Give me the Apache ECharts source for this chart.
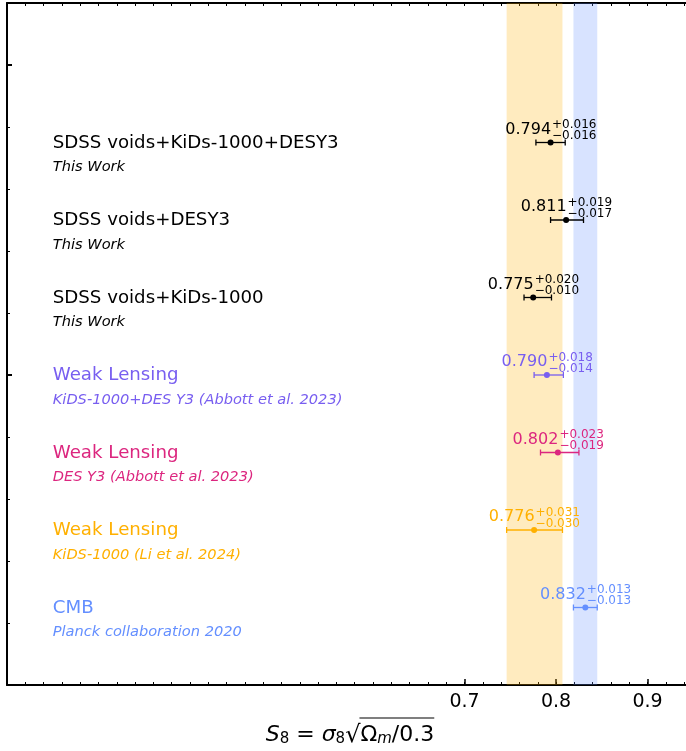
<!DOCTYPE html>
<html>
<head>
<meta charset="utf-8">
<script src="https://cdn.jsdelivr.net/npm/echarts@6/dist/echarts.min.js"></script>
<style>
  html, body { margin: 0; padding: 0; background: #fff; }
  #chart { width: 686px; height: 751px; }
</style>
</head>
<body>
<div id="chart"></div>
<script>
// S8 constraints, top row first
const labels = [
  'SDSS voids+KiDs-1000+DESY3',
  'SDSS voids+DESY3',
  'SDSS voids+KiDs-1000',
  'Weak Lensing',
  'Weak Lensing',
  'Weak Lensing',
  'CMB'
];
const sublabels = [
  'This Work',
  'This Work',
  'This Work',
  'KiDS-1000+DES Y3 (Abbott et al. 2023)',
  'DES Y3 (Abbott et al. 2023)',
  'KiDS-1000 (Li et al. 2024)',
  'Planck collaboration 2020'
];
const s8 = [0.794, 0.811, 0.775, 0.790, 0.802, 0.776, 0.832];
const errUp = [0.016, 0.019, 0.020, 0.018, 0.023, 0.031, 0.013];
const errDown = [0.016, 0.017, 0.010, 0.014, 0.019, 0.030, 0.013];
const colors = ['#000000', '#000000', '#000000', '#785EF0', '#DC267F', '#FFB000', '#648FFF'];

// shaded 1-sigma bands: KiDS-1000 (row 5) and CMB (row 6)
const bandRows = [5, 6];
const bandColors = ['rgba(255,176,0,0.25)', 'rgba(100,143,255,0.25)'];

// axes
const xTicks = [0.7, 0.8, 0.9];
const yMajorTicks = [0, 4, 8];
const X_MIN = 0.2, X_MAX = 0.942, X_MINOR = 0.02;
const Y_MIN = 0, Y_MAX = 8.8, Y_MINOR = 0.8;
const LABEL_X = 0.25;

const FONT = '"DejaVu Sans", "Liberation Sans", sans-serif';

const n = s8.length;
const rowY = i => n - i;
const points = s8.map((v, i) => [v, rowY(i), v - errDown[i], v + errUp[i], i]);
const bands = bandRows.map((r, k) => [s8[r] - errDown[r], s8[r] + errUp[r], k]);
const textRows = labels.map((_, i) => [LABEL_X, rowY(i), i]);

function txt(x, y, text, color, font, align) {
  return {
    type: 'text', x, y,
    style: {
      text, fill: color, font,
      align, textAlign: align,
      verticalAlign: 'middle', textVerticalAlign: 'middle'
    }
  };
}

const chart = echarts.init(document.getElementById('chart'), null, { renderer: 'canvas' });

const axisLine = { show: true, onZero: false, lineStyle: { color: '#000', width: 2 } };
const minorTick = { show: true, inside: true, length: 3, lineStyle: { color: '#000', width: 1 } };

// axis title S8 = sigma8 sqrt(Omega_m / 0.3), laid out piece by piece
const titlePieces = [
  { t: 'S', f: 'italic 22px ' + FONT, dy: 0 },
  { t: '8', f: '15px ' + FONT, dy: 4 },
  { t: ' = ', f: '22px ' + FONT, dy: 0 },
  { t: 'σ', f: 'italic 22px ' + FONT, dy: 0 },
  { t: '8', f: '15px ' + FONT, dy: 4 },
  { t: '√', f: '24px ' + FONT, dy: 1, root: true },
  { t: 'Ω', f: '22px ' + FONT, dy: 0, over: true },
  { t: 'm', f: 'italic 15px ' + FONT, dy: 4, over: true },
  { t: '/0.3', f: '22px ' + FONT, dy: 0, over: true }
];
const measureCtx = document.createElement('canvas').getContext('2d');
titlePieces.forEach(p => { measureCtx.font = p.f; p.w = measureCtx.measureText(p.t).width; });
const titleWidth = titlePieces.reduce((s, p) => s + p.w, 0);
const titleCenterX = 350, titleMidY = 735;
let cx = titleCenterX - titleWidth / 2;
const titleChildren = [];
let overStart = null, overEnd = null;
titlePieces.forEach(p => {
  titleChildren.push(txt(cx, titleMidY + p.dy, p.t, '#000', p.f, 'left'));
  if (p.root) overStart = cx + p.w - 1;
  cx += p.w;
  if (p.over) overEnd = cx;
});
titleChildren.push({
  type: 'line',
  shape: { x1: overStart, y1: 718, x2: overEnd, y2: 718 },
  style: { stroke: '#000', lineWidth: 1.2 }
});

chart.setOption({
  animation: false,
  backgroundColor: '#fff',
  grid: { left: 7, top: 3, bottom: 66, right: 0, outerBoundsMode: 'none' },
  xAxis: [
    {
      type: 'value', min: X_MIN, max: X_MAX, interval: X_MINOR, position: 'bottom',
      axisLine, axisTick: minorTick, axisLabel: { show: false }, splitLine: { show: false }
    },
    {
      type: 'value', min: X_MIN, max: X_MAX, position: 'bottom',
      axisLine: { show: false },
      axisTick: { show: true, inside: true, length: 6, customValues: xTicks, lineStyle: { color: '#000', width: 1.5 } },
      axisLabel: {
        show: true, customValues: xTicks, color: '#000', fontSize: 19, fontFamily: FONT, margin: 8,
        formatter: v => v.toFixed(1)
      },
      splitLine: { show: false }
    },
    {
      type: 'value', min: X_MIN, max: X_MAX, interval: X_MINOR, position: 'top',
      axisLine, axisTick: minorTick, axisLabel: { show: false }, splitLine: { show: false }
    }
  ],
  yAxis: [
    {
      type: 'value', min: Y_MIN, max: Y_MAX, interval: Y_MINOR, position: 'left',
      axisLine, axisTick: minorTick, axisLabel: { show: false }, splitLine: { show: false }
    },
    {
      type: 'value', min: Y_MIN, max: Y_MAX, position: 'left',
      axisLine: { show: false },
      axisTick: { show: true, inside: true, length: 5, customValues: yMajorTicks, lineStyle: { color: '#000', width: 2 } },
      axisLabel: { show: false }, splitLine: { show: false }
    }
  ],
  graphic: [{ type: 'group', children: titleChildren }],
  series: [
    {
      name: 'bands', type: 'custom', z: 1, silent: true,
      renderItem(params, api) {
        const a = api.coord([api.value(0), Y_MAX]);
        const b = api.coord([api.value(1), Y_MIN]);
        return {
          type: 'rect',
          shape: { x: a[0], y: a[1], width: b[0] - a[0], height: b[1] - a[1] },
          style: { fill: bandColors[api.value(2)] }
        };
      },
      data: bands
    },
    {
      name: 'labels', type: 'custom', z: 3, silent: true,
      renderItem(params, api) {
        const i = api.value(2);
        const p = api.coord([api.value(0), api.value(1)]);
        return {
          type: 'group',
          children: [
            txt(p[0], p[1] + 0.5, labels[i], colors[i], '18.2px ' + FONT, 'left'),
            txt(p[0], p[1] + 25, sublabels[i], colors[i], 'italic 14.6px ' + FONT, 'left')
          ]
        };
      },
      data: textRows
    },
    {
      name: 'S8', type: 'custom', z: 5, silent: true,
      renderItem(params, api) {
        const i = api.value(4);
        const c = colors[i];
        const y = api.value(1);
        const p = api.coord([api.value(0), y]);
        const lo = api.coord([api.value(2), y]);
        const hi = api.coord([api.value(3), y]);
        const cap = 3;
        const st = { stroke: c, lineWidth: 1.3 };
        return {
          type: 'group',
          children: [
            { type: 'line', shape: { x1: lo[0], y1: p[1], x2: hi[0], y2: p[1] }, style: st },
            { type: 'line', shape: { x1: lo[0], y1: p[1] - cap, x2: lo[0], y2: p[1] + cap }, style: st },
            { type: 'line', shape: { x1: hi[0], y1: p[1] - cap, x2: hi[0], y2: p[1] + cap }, style: st },
            { type: 'circle', shape: { cx: p[0], cy: p[1], r: 3 }, style: { fill: c } },
            txt(p[0] + 0.5, p[1] - 13, s8[i].toFixed(3), c, '16px ' + FONT, 'right'),
            txt(p[0] + 1.5, p[1] - 17.5, '+' + errUp[i].toFixed(3), c, '12px ' + FONT, 'left'),
            txt(p[0] + 1.5, p[1] - 6.5, '\u2212' + errDown[i].toFixed(3), c, '12px ' + FONT, 'left')
          ]
        };
      },
      data: points
    }
  ]
});
</script>
</body>
</html>
